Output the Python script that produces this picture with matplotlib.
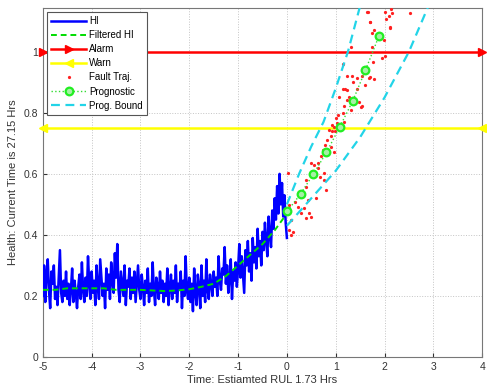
import numpy as np
import matplotlib
matplotlib.use("Agg")
import matplotlib.pyplot as plt

plt.rcParams['font.family'] = ['Liberation Sans', 'DejaVu Sans']
plt.rcParams['axes.unicode_minus'] = False

# health indicator (noisy), step 0.025 from -5 to 0
hi_vals = [
    0.20, 0.30, 0.18, 0.27, 0.32, 0.22, 0.16, 0.28, 0.24, 0.30, 0.19, 0.23, 0.17, 0.26, 0.35, 0.21, 0.18, 0.25, 0.20, 0.28,
    0.19, 0.24, 0.17, 0.22, 0.29, 0.18, 0.25, 0.21, 0.16, 0.23, 0.27, 0.19, 0.31, 0.22, 0.18, 0.26, 0.20, 0.33, 0.24, 0.19,
    0.28, 0.21, 0.25, 0.17, 0.30, 0.23, 0.19, 0.32, 0.26, 0.20, 0.24, 0.16, 0.29, 0.22, 0.27, 0.19, 0.31, 0.25, 0.21, 0.34,
    0.26, 0.37, 0.22, 0.18, 0.28, 0.24, 0.20, 0.30, 0.17, 0.25, 0.23, 0.29, 0.19, 0.26, 0.21, 0.28, 0.18, 0.24, 0.30, 0.22,
    0.19, 0.27, 0.23, 0.17, 0.25, 0.21, 0.29, 0.18, 0.24, 0.20, 0.31, 0.22, 0.17, 0.26, 0.23, 0.19, 0.28, 0.21, 0.25, 0.18,
    0.24, 0.20, 0.29, 0.17, 0.23, 0.27, 0.19, 0.25, 0.21, 0.30, 0.18, 0.24, 0.22, 0.28, 0.16, 0.25, 0.20, 0.33, 0.22, 0.19,
    0.26, 0.18, 0.24, 0.15, 0.29, 0.21, 0.17, 0.27, 0.23, 0.16, 0.30, 0.20, 0.25, 0.18, 0.32, 0.22, 0.19, 0.27, 0.24, 0.20,
    0.28, 0.23, 0.26, 0.20, 0.33, 0.25, 0.22, 0.29, 0.27, 0.36, 0.24, 0.30, 0.21, 0.26, 0.32, 0.19, 0.28, 0.25, 0.31, 0.23,
    0.29, 0.37, 0.26, 0.33, 0.27, 0.21, 0.35, 0.30, 0.38, 0.28, 0.34, 0.25, 0.39, 0.31, 0.36, 0.29, 0.42, 0.33, 0.38, 0.30,
    0.41, 0.35, 0.44, 0.38, 0.33, 0.46, 0.40, 0.36, 0.48, 0.42, 0.52, 0.45, 0.56, 0.47, 0.60, 0.50, 0.57, 0.46, 0.53, 0.44,
    0.39,
]
hi_t = np.linspace(-5, 0, len(hi_vals))

filt_t = [-5, -4.75, -4.5, -4.25, -4, -3.75, -3.5, -3.25, -3, -2.75, -2.5, -2.25, -2,
          -1.75, -1.5, -1.25, -1, -0.75, -0.5, -0.25, 0]
filt_vals = [0.22, 0.22, 0.225, 0.225, 0.225, 0.225, 0.22, 0.22, 0.22, 0.218, 0.216, 0.218, 0.222,
             0.23, 0.24, 0.265, 0.30, 0.335, 0.37, 0.415, 0.47]

alarm = 1.0
warn = 0.75

prog_t = [0.01, 0.28, 0.54, 0.81, 1.08, 1.35, 1.61, 1.89]
prog_vals = [0.478, 0.534, 0.599, 0.670, 0.753, 0.839, 0.940, 1.053]

upper_t = [0, 0.25, 0.5, 0.75, 1.0, 1.25, 1.5]
upper_vals = [0.50, 0.60, 0.69, 0.77, 0.88, 1.00, 1.15]
lower_t = [0, 0.5, 1.0, 1.5, 2.0, 2.5, 2.9]
lower_vals = [0.43, 0.52, 0.61, 0.72, 0.85, 1.00, 1.15]

fault_t = [1.65, 2.00, 2.09, 2.15, 2.52, 2.13, 2.03, 1.71, 2.11, 1.78, 1.99, 1.75, 1.31, 1.95,
           1.77, 1.14, 1.44, 1.54, 1.71, 1.78, 1.24, 1.36, 1.61, 1.14, 1.19, 1.24, 1.44, 1.07,
           1.27, 1.24, 1.48, 1.54, 1.51, 1.17, 1.31, 1.04, 1.00, 1.14, 0.92, 0.97, 1.02, 1.17,
           0.87, 0.93, 0.98, 0.90, 0.83, 0.78, 0.90, 0.73, 0.97, 0.70, 0.64, 0.49, 0.56, 0.64,
           0.77, 0.68, 0.39, 0.75, 0.80, 0.02, 0.39, 0.33, 0.43, 0.16, 0.05, 0.22, 0.36, 0.29,
           0.49, 0.46, 0.09, 0.05, 0.12, 0.09, 0.39, 0.60, 1.67, 2.02, 1.70, 1.75, 2.12, 1.34, 1.69]
fault_vals = [1.130, 1.129, 1.118, 1.127, 1.127, 1.140, 1.108, 1.096, 1.080, 1.070, 1.040, 1.017, 1.017, 0.980,
              0.966, 0.960, 0.914, 0.919, 0.917, 0.910, 0.919, 0.900, 0.892, 0.879, 0.879, 0.875, 0.878, 0.853,
              0.853, 0.843, 0.837, 0.823, 0.819, 0.823, 0.810, 0.793, 0.783, 0.799, 0.761, 0.755, 0.766, 0.771,
              0.744, 0.739, 0.739, 0.725, 0.711, 0.693, 0.689, 0.679, 0.673, 0.657, 0.635, 0.635, 0.630, 0.619,
              0.602, 0.591, 0.580, 0.580, 0.548, 0.602, 0.558, 0.526, 0.515, 0.509, 0.498, 0.493, 0.488, 0.471,
              0.460, 0.471, 0.449, 0.416, 0.411, 0.400, 0.455, 0.520, 1.130, 0.985, 1.096, 1.061, 1.077, 0.919, 0.914]

x_ticks = [-5, -4, -3, -2, -1, 0, 1, 2, 3, 4]
y_ticks = [0, 0.2, 0.4, 0.6, 0.8, 1]

fig = plt.figure(figsize=(4.87, 3.91), dpi=100)
ax = fig.add_axes([0.088, 0.087, 0.902, 0.893])

ax.plot(hi_t, hi_vals, color='#0000ff', lw=1.8, label='HI', zorder=3)
ax.plot(filt_t, filt_vals, color='#00dd00', lw=1.4, ls='--', dashes=(3, 2), label='Filtered HI', zorder=4)
ax.plot([-5, 4], [alarm, alarm], color='#ff0000', lw=1.8, marker='>', ms=6, label='Alarm', clip_on=False, zorder=5)
ax.plot([-5, 4], [warn, warn], color='#ffff00', lw=1.8, marker='<', ms=6, label='Warn', clip_on=False, zorder=5)
ax.plot(fault_t, fault_vals, ls='none', marker='.', ms=2.6, color='#ff2020', label='Fault Traj.', zorder=6)
ax.plot(prog_t, prog_vals, color='#33dd33', ls=':', lw=1.0, marker='o', ms=5.5, mew=1.6,
        mec='#22ee22', mfc='#a6f0a6', label='Prognostic', zorder=7)
ax.plot(upper_t, upper_vals, color='#22d4e8', lw=1.6, ls='--', dashes=(4, 2.5), label='Prog. Bound', zorder=6)
ax.plot(lower_t, lower_vals, color='#22d4e8', lw=1.6, ls='--', dashes=(4, 2.5), zorder=6)

ax.set_xlim(-5, 4)
ax.set_ylim(0, 1.144)
ax.set_xticks(x_ticks)
ax.set_yticks(y_ticks)
ax.set_yticklabels(['0', '0.2', '0.4', '0.6', '0.8', '1'])
ax.tick_params(direction='in', labelsize=7.5, length=3, colors='#333333')
ax.grid(True, ls=':', color='#c4c4c4', lw=0.7)
for s in ax.spines.values():
    s.set_color('#777777')
    s.set_linewidth(0.8)

ax.set_xlabel('Time: Estiamted RUL 1.73 Hrs', fontsize=8, color='#333333', labelpad=2)
ax.set_ylabel('Health: Current Time is 27.15 Hrs', fontsize=8, color='#333333', labelpad=4)

leg = ax.legend(loc='upper left', fontsize=7, frameon=True, fancybox=False, borderaxespad=0.4,
                handlelength=3.6, handletextpad=0.3, labelspacing=0.42, borderpad=0.45)
leg.get_frame().set_edgecolor('#555555')
leg.get_frame().set_linewidth(0.8)
leg.get_frame().set_alpha(1)

fig.savefig('out.png', dpi=100)
